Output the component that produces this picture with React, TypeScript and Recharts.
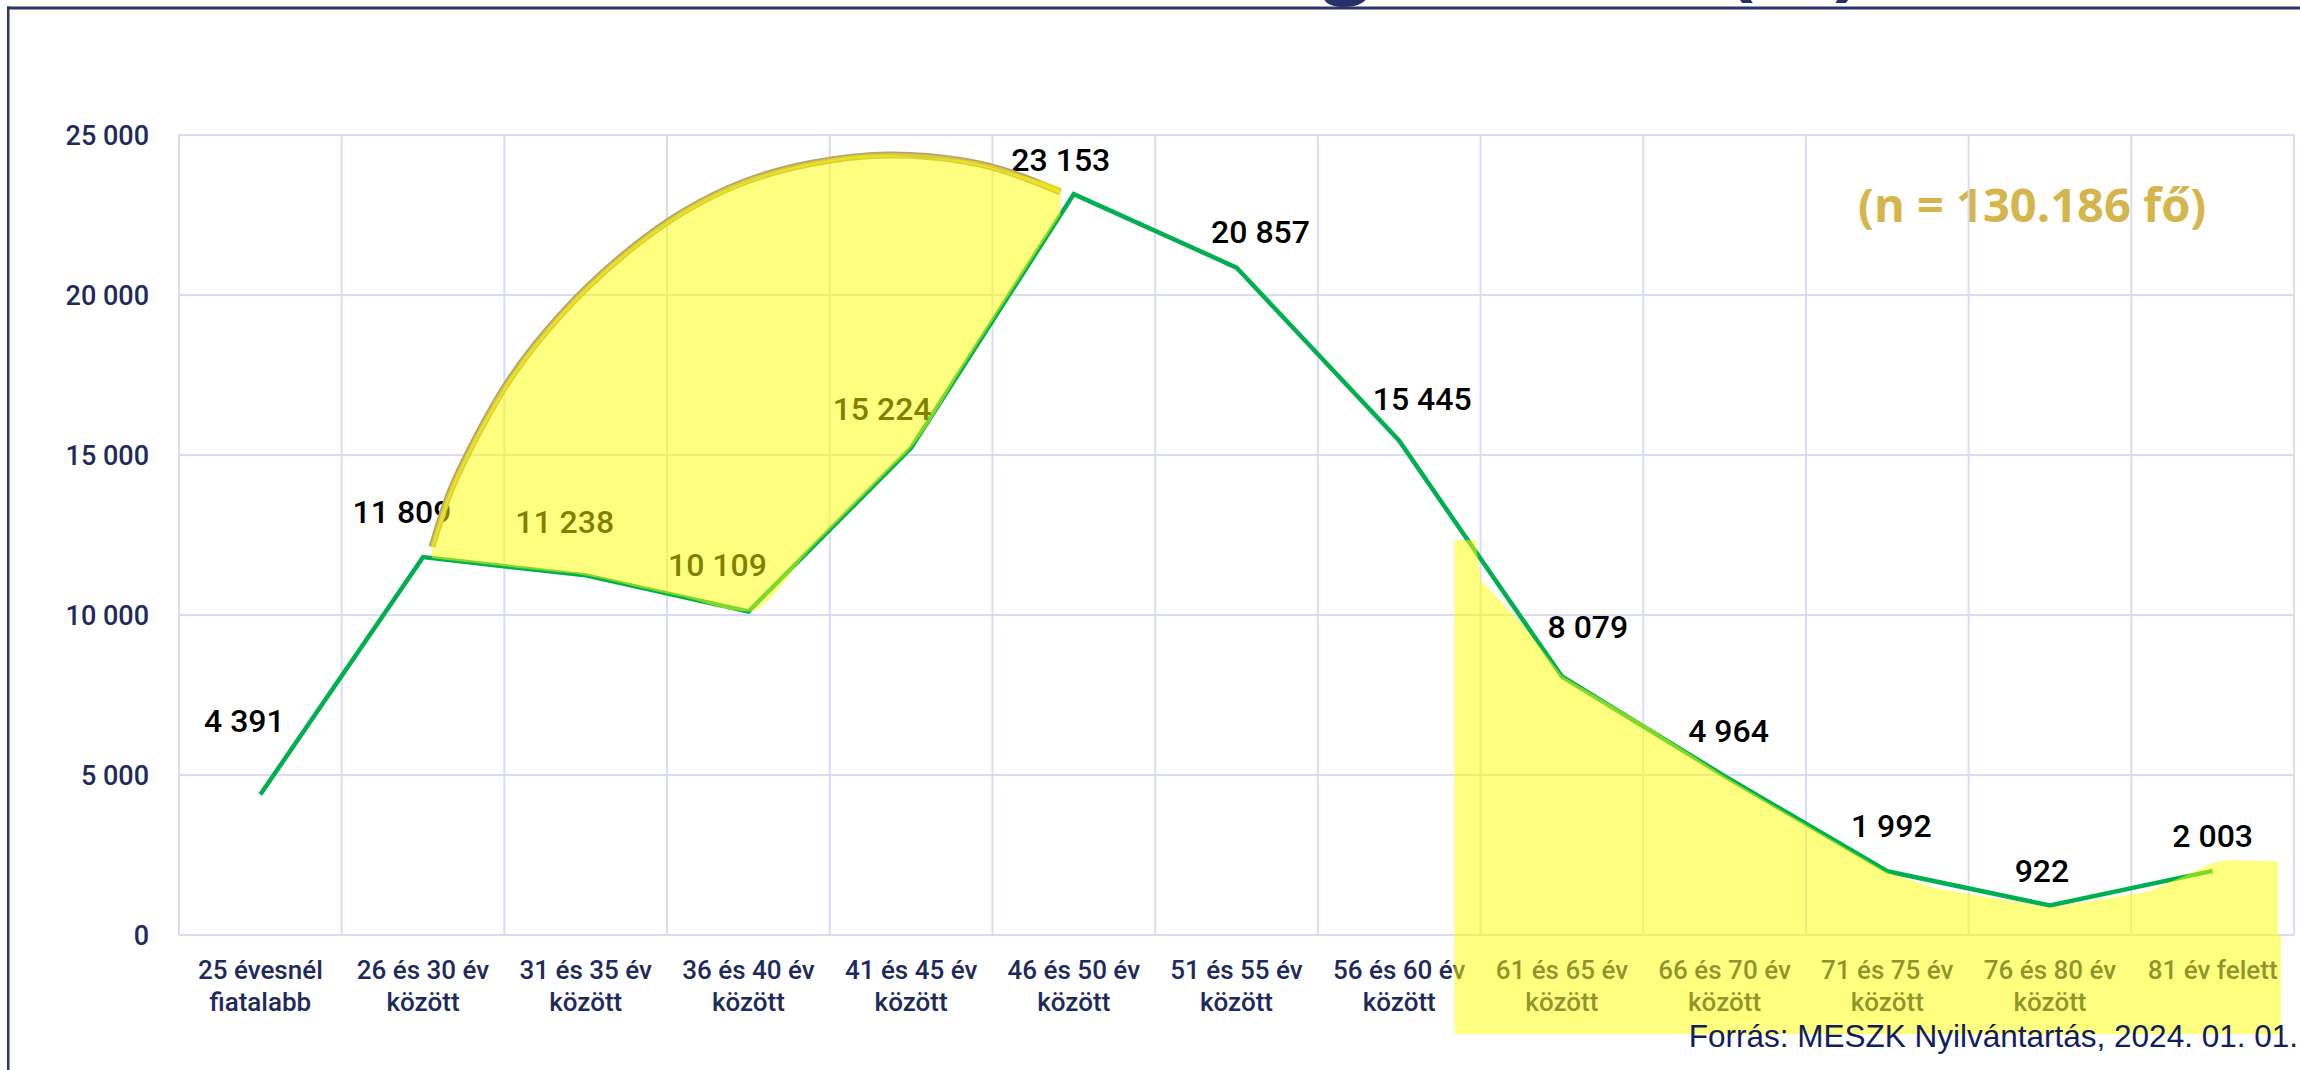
import React from 'react';
import {
  ComposedChart,
  Line,
  Area,
  XAxis,
  YAxis,
  CartesianGrid,
  ReferenceArea,
} from 'recharts';

// ---------- data ----------
const categories: string[] = [
  '25 évesnél\nfiatalabb',
  '26 és 30 év\nközött',
  '31 és 35 év\nközött',
  '36 és 40 év\nközött',
  '41 és 45 év\nközött',
  '46 és 50 év\nközött',
  '51 és 55 év\nközött',
  '56 és 60 év\nközött',
  '61 és 65 év\nközött',
  '66 és 70 év\nközött',
  '71 és 75 év\nközött',
  '76 és 80 év\nközött',
  '81 év felett',
];

const memberCounts: number[] = [
  4391, 11809, 11238, 10109, 15224, 23153, 20857, 15445, 8079, 4964, 1992, 922, 2003,
];

const yTicks: number[] = [0, 5000, 10000, 15000, 20000, 25000];

const totalLabel = '(n = 130.186 fő)';
const sourceLabel = 'Forrás: MESZK Nyilvántartás, 2024. 01. 01.';
const titleMain = 'Életkor szerinti megoszlása';
const titleUnit = '(%)';

// hand-drawn highlighter annotation 1 (arc outline) in data units: x = category index, value
const arcX: number[] = [1.055, 1.155, 1.281, 1.5, 1.751, 2.002, 2.284, 2.598, 2.974, 3.382, 3.852, 4.323, 4.636, 4.918];
const arcTop: number[] = [12134, 13697, 15100, 17103, 18828, 20206, 21469, 22594, 23531, 24109, 24375, 24188, 23781, 23219];

// fill of annotation 1 (adds the corners of the green line at 2, 3 and 4)
const fillX: number[] = [1.055, 1.155, 1.281, 1.5, 1.751, 2.0, 2.284, 2.598, 3.0, 3.382, 3.852, 4.0, 4.323, 4.636, 4.918];
const fillTop: number[] = [12134, 13697, 15100, 17103, 18828, 20200, 21469, 22594, 23568, 24109, 24375, 24316, 24188, 23781, 23400];

// hand-drawn highlighter annotation 2 (lower right) in data units
const markX: number[] = [7.34, 7.47, 7.5, 7.75, 8, 8.5, 9, 9.5, 10, 10.3, 11, 11.6, 11.85, 12, 12.1, 12.4];
const markTop: number[] = [12344, 12344, 11100, 9750, 8100, 6600, 4964, 3450, 1950, 1450, 850, 1350, 1900, 2250, 2344, 2300];
const markSpan: number[] = [7.34, 12.42];
const markDepth = -3100;

// ---------- styles (kept apart from data) ----------
// label nudges relative to each point: [dx, baseline dy]
const labelNudges: number[][] = [
  [-16, -62], [-21, -34], [-21, -42], [-31, -36], [-29, -28], [-13, -23], [24, -25],
  [23, -31], [26, -38], [4, -34], [4, -34], [-8, -23], [0, -24],
];

const NAVY = '#1F2A5C';
const GRID = '#D9DCF2';
const GREEN = '#00B050';
const HL = '#FFFF00';

const fmt = (v: number) => String(v).replace(/\B(?=(\d{3})+(?!\d))/g, ' ');

const lineAt = (x: number) => {
  const i0 = Math.max(0, Math.min(memberCounts.length - 2, Math.floor(x)));
  const t = x - i0;
  return memberCounts[i0] + t * (memberCounts[i0 + 1] - memberCounts[i0]);
};

const chartData = memberCounts.map((v, i) => ({ x: i, value: v }));
const arcRows = arcX.map((x, i) => ({ x, top: arcTop[i] }));
const fillRows = fillX.map((x, i) => ({ x, band: [lineAt(x), fillTop[i]] }));
const markRows = markX.map((x, i) => ({ x, top: markTop[i] }));
const boundaryTicks = Array.from({ length: categories.length + 1 }, (_, i) => i - 0.5);
const centerTicks = categories.map((_, i) => i);

const CatTick = (props: any) => {
  const { x, y, payload } = props;
  const lines = categories[payload.value]?.split('\n') ?? [];
  return (
    <g>
      {lines.map((ln, k) => (
        <text
          key={k}
          x={x}
          y={y + 44 + k * 32}
          textAnchor="middle"
          fontFamily="Roboto"
          fontWeight={500}
          fontSize={26}
          fill={NAVY}
        >
          {ln}
        </text>
      ))}
    </g>
  );
};

const EmptyTick = () => <g />;

const ValueLabel = (p: any) => {
  const x = p.x ?? p.viewBox?.x;
  const y = p.y ?? p.viewBox?.y;
  const i = p.index ?? 0;
  const [dx, dy] = labelNudges[i] ?? [0, -25];
  return (
    <text
      key={`lbl-${i}`}
      x={x + dx}
      y={y + dy}
      textAnchor="middle"
      fontFamily="Roboto"
      fontWeight={500}
      fontSize={32}
      fill="#000000"
    >
      {fmt(Number(p.value))}
    </text>
  );
};

export default function App() {
  return (
    <div
      style={{
        position: 'absolute',
        left: 0,
        top: 0,
        width: 2300,
        height: 1070,
        overflow: 'hidden',
        background: '#fff',
      }}
    >
      {/* underlay: frame, title, total */}
      <svg width={2300} height={1070} style={{ position: 'absolute', left: 0, top: 0 }}>
        <text
          x={1682}
          y={-14}
          textAnchor="end"
          fontFamily="Open Sans"
          fontWeight={700}
          fontSize={86}
          fill="#26316B"
        >
          {titleMain}
        </text>
        <text
          x={1862}
          y={-11}
          textAnchor="end"
          fontFamily="Open Sans"
          fontWeight={700}
          fontSize={86}
          fill="#26316B"
        >
          {titleUnit}
        </text>
        <rect x={7} y={6.5} width={2293} height={3} fill="#2B3566" />
        <rect x={7} y={6.5} width={2.5} height={1064} fill="#2B3566" />
        <text x={1858} y={222} fontFamily="Open Sans" fontWeight={700} fontSize={47} fill="#D4B64C">
          {totalLabel}
        </text>
      </svg>

      <div style={{ position: 'absolute', left: 0, top: 0 }}>
        <ComposedChart
          width={2300}
          height={1070}
          data={chartData}
          margin={{ top: 135, right: 6, bottom: 35, left: 59 }}
        >
          <CartesianGrid xAxisId="grid" stroke={GRID} strokeWidth={2} />
          <XAxis
            xAxisId="grid"
            type="number"
            dataKey="x"
            domain={[-0.5, 12.5]}
            ticks={boundaryTicks}
            interval={0}
            height={0}
            tick={EmptyTick}
            tickSize={10}
            tickLine={{ stroke: GRID, strokeWidth: 2 }}
            axisLine={{ stroke: '#D2D6EE', strokeWidth: 2.5 }}
          />
          <XAxis
            xAxisId="cat"
            type="number"
            dataKey="x"
            domain={[-0.5, 12.5]}
            ticks={centerTicks}
            interval={0}
            height={100}
            tick={<CatTick />}
            tickSize={0}
            tickMargin={0}
            tickLine={false}
            axisLine={false}
          />
          <YAxis
            domain={[0, 25000]}
            ticks={yTicks}
            interval={0}
            width={120}
            axisLine={false}
            tickLine={false}
            tickSize={6}
            tickMargin={24}
            tickFormatter={fmt}
            tick={{ fill: NAVY, fontFamily: 'Roboto', fontWeight: 500, fontSize: 27 }}
          />
          <Line
            xAxisId="cat"
            dataKey="value"
            type="linear"
            stroke={GREEN}
            strokeWidth={4.5}
            dot={false}
            activeDot={false}
            label={ValueLabel}
            isAnimationActive={false}
          />
          <Line
            data={arcRows}
            xAxisId="cat"
            dataKey="top"
            type="natural"
            stroke="#B8A46A"
            strokeWidth={7}
            dot={false}
            activeDot={false}
            isAnimationActive={false}
            zIndex={2500}
          />
          <Line
            data={arcRows}
            xAxisId="cat"
            dataKey="top"
            type="natural"
            stroke="#D8CD3C"
            strokeWidth={3.5}
            dot={false}
            activeDot={false}
            isAnimationActive={false}
            zIndex={2500}
          />
          <Area
            data={fillRows}
            xAxisId="cat"
            dataKey="band"
            type="monotone"
            fill={HL}
            fillOpacity={0.5}
            stroke="none"
            dot={false}
            activeDot={false}
            isAnimationActive={false}
            zIndex={2600}
          />
          <Area
            data={markRows}
            xAxisId="cat"
            dataKey="top"
            type="linear"
            baseValue={0}
            fill={HL}
            fillOpacity={0.5}
            stroke="none"
            dot={false}
            activeDot={false}
            isAnimationActive={false}
            zIndex={2600}
          />
          <ReferenceArea
            xAxisId="cat"
            x1={markSpan[0]}
            x2={markSpan[1]}
            y1={markDepth}
            y2={0}
            fill={HL}
            fillOpacity={0.5}
            stroke="none"
            ifOverflow="visible"
            zIndex={2600}
          />
        </ComposedChart>
      </div>

      {/* overlay: source note */}
      <svg width={2300} height={1070} style={{ position: 'absolute', left: 0, top: 0, pointerEvents: 'none' }}>
        <text
          x={2298}
          y={1047}
          textAnchor="end"
          fontFamily="Liberation Sans, Arial"
          fontSize={31.5}
          fill="#10205E"
        >
          {sourceLabel}
        </text>
      </svg>
    </div>
  );
}
